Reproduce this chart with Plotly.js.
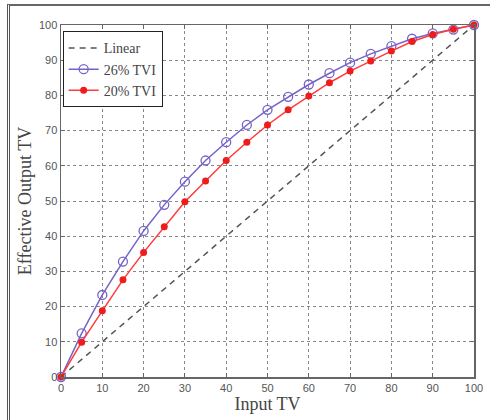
<!DOCTYPE html>
<html>
<head>
<meta charset="utf-8">
<script src="https://cdn.plot.ly/plotly-3.0.1.min.js"></script>
<style>
  html, body { margin: 0; padding: 0; background: #fff; }
  #frame { position: absolute; left: 0; top: 0; width: 490px; height: 420px; }
  #frame::before { content: ""; position: absolute; left: 7px; top: 4px; width: 483px; height: 416px;
    border-left: 3px double #555; border-top: 2px solid #666; pointer-events: none; z-index: 5; }
  #chart { width: 490px; height: 420px; }
</style>
</head>
<body>
<div id="frame"><div id="chart"></div></div>
<script>
// Input tone value (%)
const inputTV = [0, 5, 10, 15, 20, 25, 30, 35, 40, 45, 50, 55, 60, 65, 70, 75, 80, 85, 90, 95, 100];
// Effective output tone value for each tone value increase
const linearTV = [0, 5, 10, 15, 20, 25, 30, 35, 40, 45, 50, 55, 60, 65, 70, 75, 80, 85, 90, 95, 100];
const tvi26 = [0, 12.4, 23.3, 32.8, 41.5, 48.9, 55.5, 61.5, 66.7, 71.6, 75.9, 79.6, 83.1, 86.3, 89.3, 91.8, 94.0, 96.1, 97.6, 98.7, 100];
const tvi20 = [0, 9.9, 18.8, 27.6, 35.4, 42.7, 49.8, 55.7, 61.5, 66.7, 71.6, 75.9, 79.8, 83.6, 86.9, 89.8, 92.6, 95.3, 97.3, 98.8, 100];
const tickVals = [0, 10, 20, 30, 40, 50, 60, 70, 80, 90, 100];

const serif = '"Liberation Serif", "DejaVu Serif", serif';
const sans = '"Liberation Sans", Arial, sans-serif';

const traces = [
  { x: inputTV, y: linearTV, name: 'Linear', mode: 'lines',
    line: { color: '#555555', width: 1.5, dash: '6px,5px' }, cliponaxis: false },
  { x: inputTV, y: tvi26, name: '26% TVI', mode: 'lines+markers',
    line: { color: '#7563c9', width: 1.5 },
    marker: { symbol: 'circle-open', size: 9, color: '#7563c9', line: { width: 1.3, color: '#7563c9' } },
    cliponaxis: false },
  { x: inputTV, y: tvi20, name: '20% TVI', mode: 'lines+markers',
    line: { color: '#ff3b3b', width: 1.5 },
    marker: { symbol: 'circle', size: 7, color: '#ee1c1c' },
    cliponaxis: false }
];

const axisCommon = {
  range: [0, 100], tickvals: tickVals, ticks: 'inside', ticklen: 4, tickwidth: 1, tickcolor: '#666',
  showline: true, linecolor: '#666', linewidth: 1.5, mirror: 'ticks',
  showgrid: true, gridcolor: '#888', griddash: 'dot', gridwidth: 1,
  zeroline: false, tickfont: { family: sans, size: 11, color: '#555' }, fixedrange: true
};

const layout = {
  width: 490, height: 420,
  margin: { l: 61, r: 16, t: 25, b: 43 },
  paper_bgcolor: '#ffffff', plot_bgcolor: '#ffffff',
  showlegend: true,
  legend: {
    x: 0.004, y: 0.982, xanchor: 'left', yanchor: 'top',
    bgcolor: '#ffffff', bordercolor: '#222', borderwidth: 1,
    font: { family: serif, size: 14, color: '#444' },
    itemwidth: 30, tracegroupgap: 0
  },
  xaxis: Object.assign({}, axisCommon, {
    title: { text: 'Input TV', font: { family: serif, size: 18, color: '#444' }, standoff: 0 }
  }),
  yaxis: Object.assign({}, axisCommon, {
    title: { text: 'Effective Output TV', font: { family: serif, size: 18, color: '#444' }, standoff: 2 }
  })
};

Plotly.newPlot('chart', traces, layout, { displayModeBar: false, staticPlot: true });
</script>
</body>
</html>
